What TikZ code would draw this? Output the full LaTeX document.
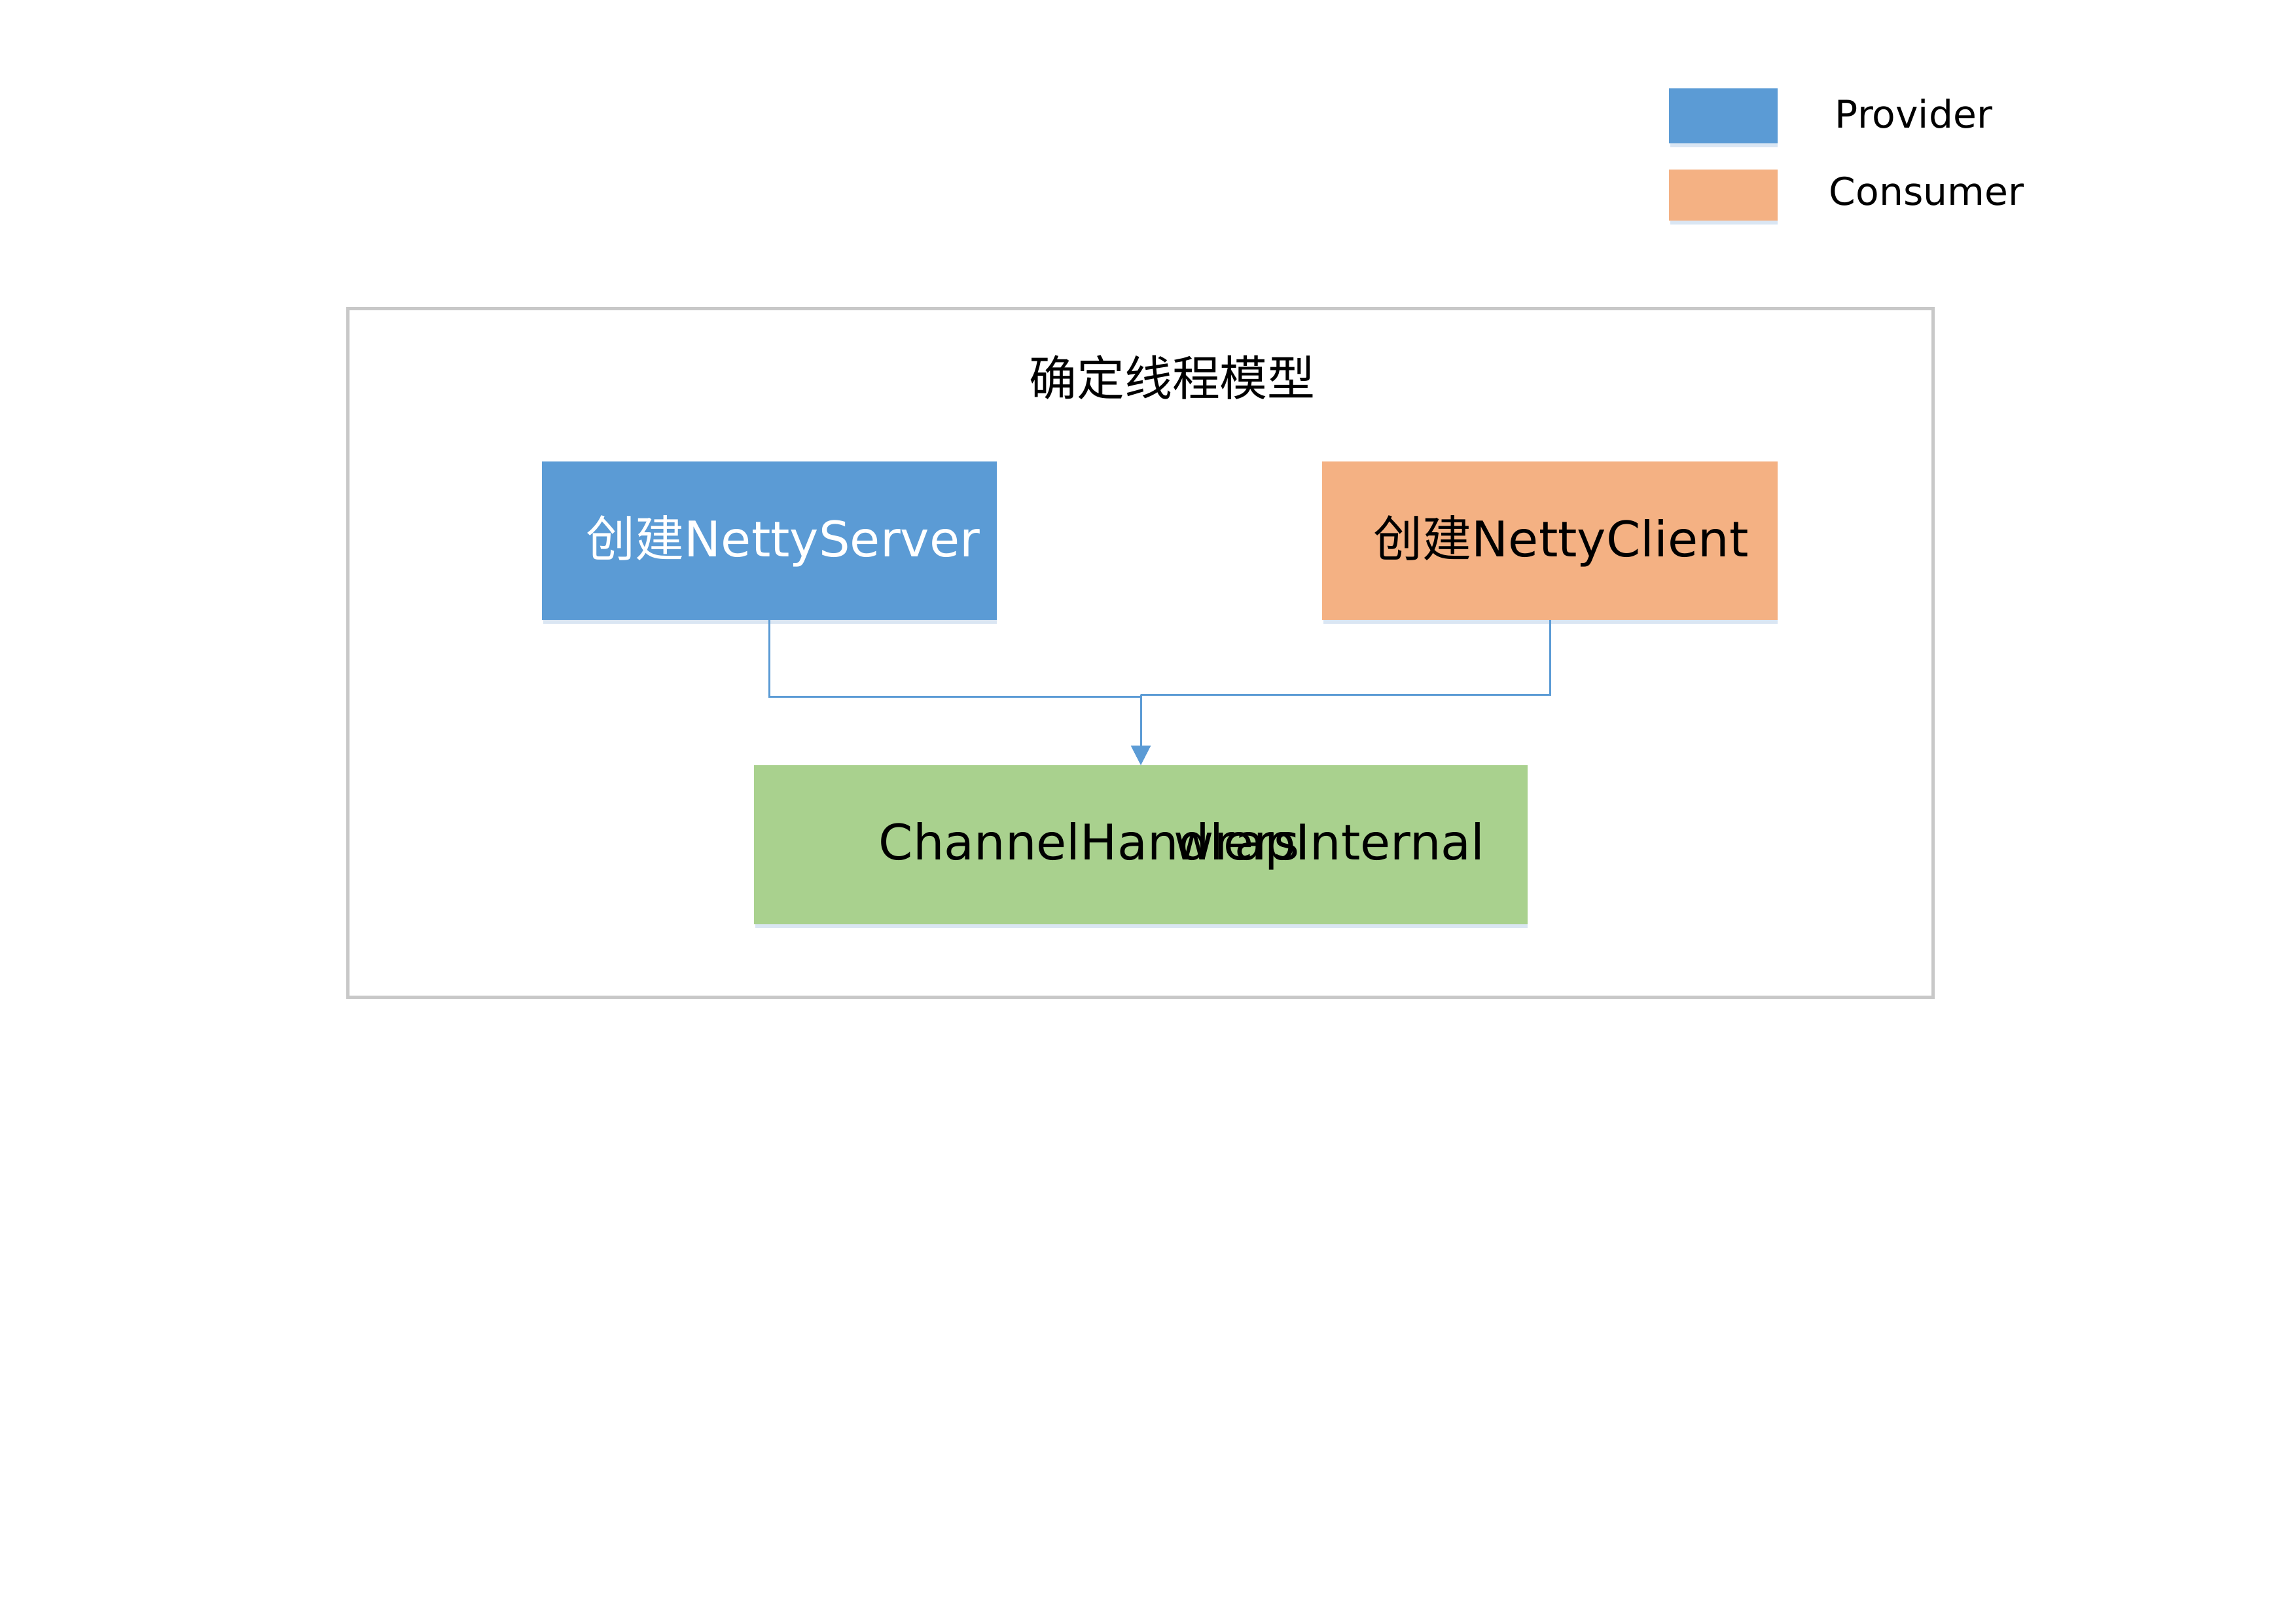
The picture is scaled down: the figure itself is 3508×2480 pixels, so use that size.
\documentclass[tikz,border=0pt]{standalone}
\usepackage{fontspec}
\setmainfont{DejaVu Sans}
\newfontfamily\cjk{Noto Sans CJK SC}
\usetikzlibrary{arrows.meta,calc}
\definecolor{provblue}{HTML}{5B9BD5}
\definecolor{consorange}{HTML}{F4B183}
\definecolor{wrapgreen}{HTML}{A9D18E}
\definecolor{framegray}{HTML}{C8C8C8}
\definecolor{shadowblue}{HTML}{DAE6F3}
\tikzset{
  box/.style={rectangle, inner sep=0pt, outer sep=0pt, draw=none},
  boxtext/.style={inner sep=0pt, anchor=base west, font=\fontsize{18}{20}\selectfont},
  legtext/.style={inner sep=0pt, anchor=base west, font=\fontsize{14}{16}\selectfont},
  conn/.style={draw=provblue, line width=0.72pt},
}
\begin{document}
\begin{tikzpicture}[x=0.24pt, y=-0.24pt]
\useasboundingbox (0,0) rectangle (3508,2480);
% legend
\fill[shadowblue] (2552,219) rectangle (2716,225);
\node[box, fill=provblue, minimum width=166*0.24pt, minimum height=84*0.24pt] (legP) at (2633,176.5) {};
\fill[shadowblue] (2552,337) rectangle (2716,343);
\node[box, fill=consorange, minimum width=166*0.24pt, minimum height=78*0.24pt] (legC) at (2633,298) {};
\node[legtext] (legPt) at (2803,195) {Provider};
\node[legtext] (legCt) at (2794,313) {Consumer};
% frame
\node[box, draw=framegray, line width=1.2pt, minimum width=2422*0.24pt, minimum height=1052*0.24pt] (frame) at (1742,997) {};
\node[inner sep=0pt, anchor=base, font=\cjk\fontsize{17.5}{20}\selectfont] (title) at (1791,604) {确定线程模型};
% boxes
\fill[shadowblue] (830,947) rectangle (1523,953);
\node[box, fill=provblue, minimum width=695*0.24pt, minimum height=242*0.24pt] (server) at (1175.5,826) {};
\fill[shadowblue] (2022,947) rectangle (2716,953);
\node[box, fill=consorange, minimum width=696*0.24pt, minimum height=242*0.24pt] (client) at (2368,826) {};
\fill[shadowblue] (1154,1412) rectangle (2334,1418);
\node[box, fill=wrapgreen, minimum width=1182*0.24pt, minimum height=243*0.24pt] (wrap) at (1743,1290.5) {};
\node[boxtext, text=white] (serverT) at (895,850) {{\cjk 创建}NettyServer};
\node[boxtext, text=black] (clientT) at (2098,850) {{\cjk 创建}NettyClient};
\node[boxtext] (wrapT1) at (1342,1313) {ChannelHandlers};
\node[boxtext] (wrapT2) at (1793,1313) {wrapInternal};
% connectors
\coordinate (join) at (1743,1064);
\draw[conn] (server.south) |- (join);
\draw[conn] (client.south) |- ($(join)+(0,-3)$);
\draw[conn, -{Triangle[width=7.2pt,length=7.2pt]}] ($(join)+(0,-3)$) -- (wrap.north);
\end{tikzpicture}
\end{document}
